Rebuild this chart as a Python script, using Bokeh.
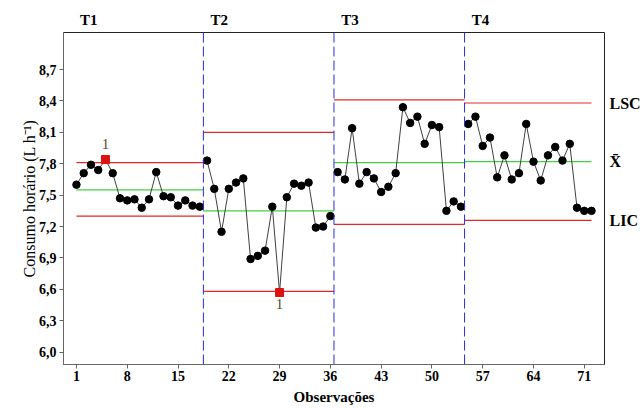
from bokeh.plotting import figure
from bokeh.models import Range1d, Span, FixedTicker, CustomJSTickFormatter, ColumnDataSource, LinearAxis
from bokeh.embed import file_html
from bokeh.resources import INLINE
from bokeh.core.properties import value

# ---------------- data ----------------
consumo_t1 = [7.60, 7.71, 7.79, 7.74, 7.84, 7.71, 7.47, 7.45, 7.46, 7.38, 7.46, 7.72, 7.49, 7.48, 7.40, 7.45, 7.40, 7.39]
consumo_t2 = [7.83, 7.56, 7.15, 7.56, 7.62, 7.66, 6.89, 6.92, 6.97, 7.39, 6.57, 7.48, 7.61, 7.59, 7.62, 7.19, 7.20, 7.30]
consumo_t3 = [7.72, 7.65, 8.14, 7.61, 7.72, 7.66, 7.53, 7.58, 7.71, 8.34, 8.19, 8.25, 7.99, 8.17, 8.15, 7.35, 7.44, 7.39]
consumo_t4 = [8.18, 8.25, 7.97, 8.05, 7.67, 7.88, 7.65, 7.71, 8.18, 7.82, 7.64, 7.88, 7.96, 7.83, 7.99, 7.38, 7.35, 7.35]
consumo = consumo_t1 + consumo_t2 + consumo_t3 + consumo_t4
observacoes = list(range(1, len(consumo) + 1))

fases = ["T1", "T2", "T3", "T4"]
fase_inicio = [1, 19, 37, 55]
fase_fim = [18, 36, 54, 72]
lsc = [7.81, 8.10, 8.41, 8.38]
media = [7.55, 7.35, 7.81, 7.82]
lic = [7.30, 6.58, 7.22, 7.26]

fora_obs = [5, 29]
fora_rotulo = ["1", "1"]

x_ticks = [1, 8, 15, 22, 29, 36, 43, 50, 57, 64, 71]
y_ticks = [6.0, 6.3, 6.6, 6.9, 7.2, 7.5, 7.8, 8.1, 8.4, 8.7]
rotulos_direita = ["LIC", "X̄", "LSC"]

# ---------------- figure ----------------
SERIF = "Liberation Serif"
X_START, X_END = -0.785, 73.79
Y_START, Y_END = 5.8825, 9.0535

p = figure(width=643, height=408, title=None,
           min_border_left=63, min_border_right=37, min_border_top=32, min_border_bottom=44,
           x_range=Range1d(X_START, X_END), y_range=Range1d(Y_START, Y_END),
           output_backend="svg", toolbar_location=None,
           background_fill_color="white", border_fill_color="white")
p.xgrid.grid_line_color = None
p.ygrid.grid_line_color = None
p.outline_line_color = "#222222"
p.outline_line_width = 1

for ax in (p.xaxis, p.yaxis):
    ax.axis_line_color = "#666666"
    ax.major_tick_line_color = "#666666"
    ax.major_tick_out = 4
    ax.major_tick_in = 0
    ax.minor_tick_out = 0
    ax.minor_tick_in = 0
    ax.major_label_text_font = SERIF
    ax.major_label_text_font_style = "bold"
    ax.major_label_text_font_size = "14px"
    ax.major_label_text_color = "black"

p.xaxis.ticker = FixedTicker(ticks=x_ticks)
p.yaxis.ticker = FixedTicker(ticks=y_ticks)
p.yaxis.formatter = CustomJSTickFormatter(code="return tick.toFixed(1).replace('.', ',');")
p.xaxis.major_label_standoff = 2
p.yaxis.major_label_standoff = 3

p.yaxis.axis_label = "Consumo horário (L h⁻¹)"
p.yaxis.axis_label_text_font = SERIF
p.yaxis.axis_label_text_font_style = "normal"
p.yaxis.axis_label_text_font_size = "16px"
p.yaxis.axis_label_text_color = "black"
p.yaxis.axis_label_standoff = -2

p.xaxis.axis_label = "Observações"
p.xaxis.axis_label_text_font = SERIF
p.xaxis.axis_label_text_font_style = "bold"
p.xaxis.axis_label_text_font_size = "15px"
p.xaxis.axis_label_text_color = "black"
p.xaxis.axis_label_standoff = 5

lookup_js = """
let best = 0;
for (let i = 0; i < vals.length; i++) {
  if (Math.abs(vals[i] - tick) < Math.abs(vals[best] - tick)) best = i;
}
return names[best];
"""

# phase titles on a top axis
pos_fases = [a + 1.7 for a in fase_inicio]
top = LinearAxis(ticker=FixedTicker(ticks=pos_fases),
                 formatter=CustomJSTickFormatter(args=dict(vals=pos_fases, names=fases), code=lookup_js))
top.axis_line_color = None
top.major_tick_line_color = None
top.minor_tick_line_color = None
top.major_tick_out = 0
top.major_tick_in = 0
top.minor_tick_out = 0
top.minor_tick_in = 0
top.major_label_standoff = 5
top.major_label_text_font = SERIF
top.major_label_text_font_style = "bold"
top.major_label_text_font_size = "15px"
top.major_label_text_color = "black"
p.add_layout(top, "above")

# control-limit names on a right axis (values of last phase)
pos_dir = [lic[-1], media[-1], lsc[-1]]
right = LinearAxis(ticker=FixedTicker(ticks=pos_dir),
                   formatter=CustomJSTickFormatter(args=dict(vals=pos_dir, names=rotulos_direita), code=lookup_js))
right.axis_line_color = None
right.major_tick_line_color = None
right.minor_tick_line_color = None
right.major_tick_out = 0
right.major_tick_in = 0
right.minor_tick_out = 0
right.minor_tick_in = 0
right.major_label_standoff = 5
right.major_label_text_font = SERIF
right.major_label_text_font_style = "bold"
right.major_label_text_font_size = "16px"
right.major_label_text_color = "black"
p.add_layout(right, "right")

# control limit segments
x0 = [fase_inicio[0]] + [f - 0.5 for f in fase_inicio[1:]]
x1 = [f + 0.5 for f in fase_fim[:-1]] + [fase_fim[-1]]
p.segment(x0=x0, y0=lsc, x1=x1, y1=lsc, line_color="#e02828", line_width=1.2)
p.segment(x0=x0, y0=lic, x1=x1, y1=lic, line_color="#e02828", line_width=1.2)
p.segment(x0=x0, y0=media, x1=x1, y1=media, line_color="#44d044", line_width=1.2)

# phase separators
for f in fase_fim[:-1]:
    p.add_layout(Span(location=f + 0.5, dimension="height", line_color="#2a2ae0",
                      line_width=1, line_dash="10 4"))

# data lines per phase
for a, b in zip(fase_inicio, fase_fim):
    p.line(observacoes[a - 1:b], consumo[a - 1:b], line_color="#404040", line_width=1)

normais = [i for i in observacoes if i not in fora_obs]
p.scatter(normais, [consumo[i - 1] for i in normais],
          marker="circle", size=7.5, fill_color="black", line_color="black")
p.scatter(fora_obs, [consumo[i - 1] for i in fora_obs], marker="square", size=8,
          fill_color="#dd1111", line_color="#dd1111")

src_fora = ColumnDataSource(dict(x=fora_obs, y=[consumo[i - 1] for i in fora_obs],
                                 t=fora_rotulo, dy=[-16, 11.5]))
p.text(x="x", y="y", text="t", source=src_fora, y_offset="dy",
       text_align="center", text_baseline="middle",
       text_font=value(SERIF), text_font_size="15px", text_color="#5c4a2e")

open("out.html", "w").write(file_html(p, INLINE))
